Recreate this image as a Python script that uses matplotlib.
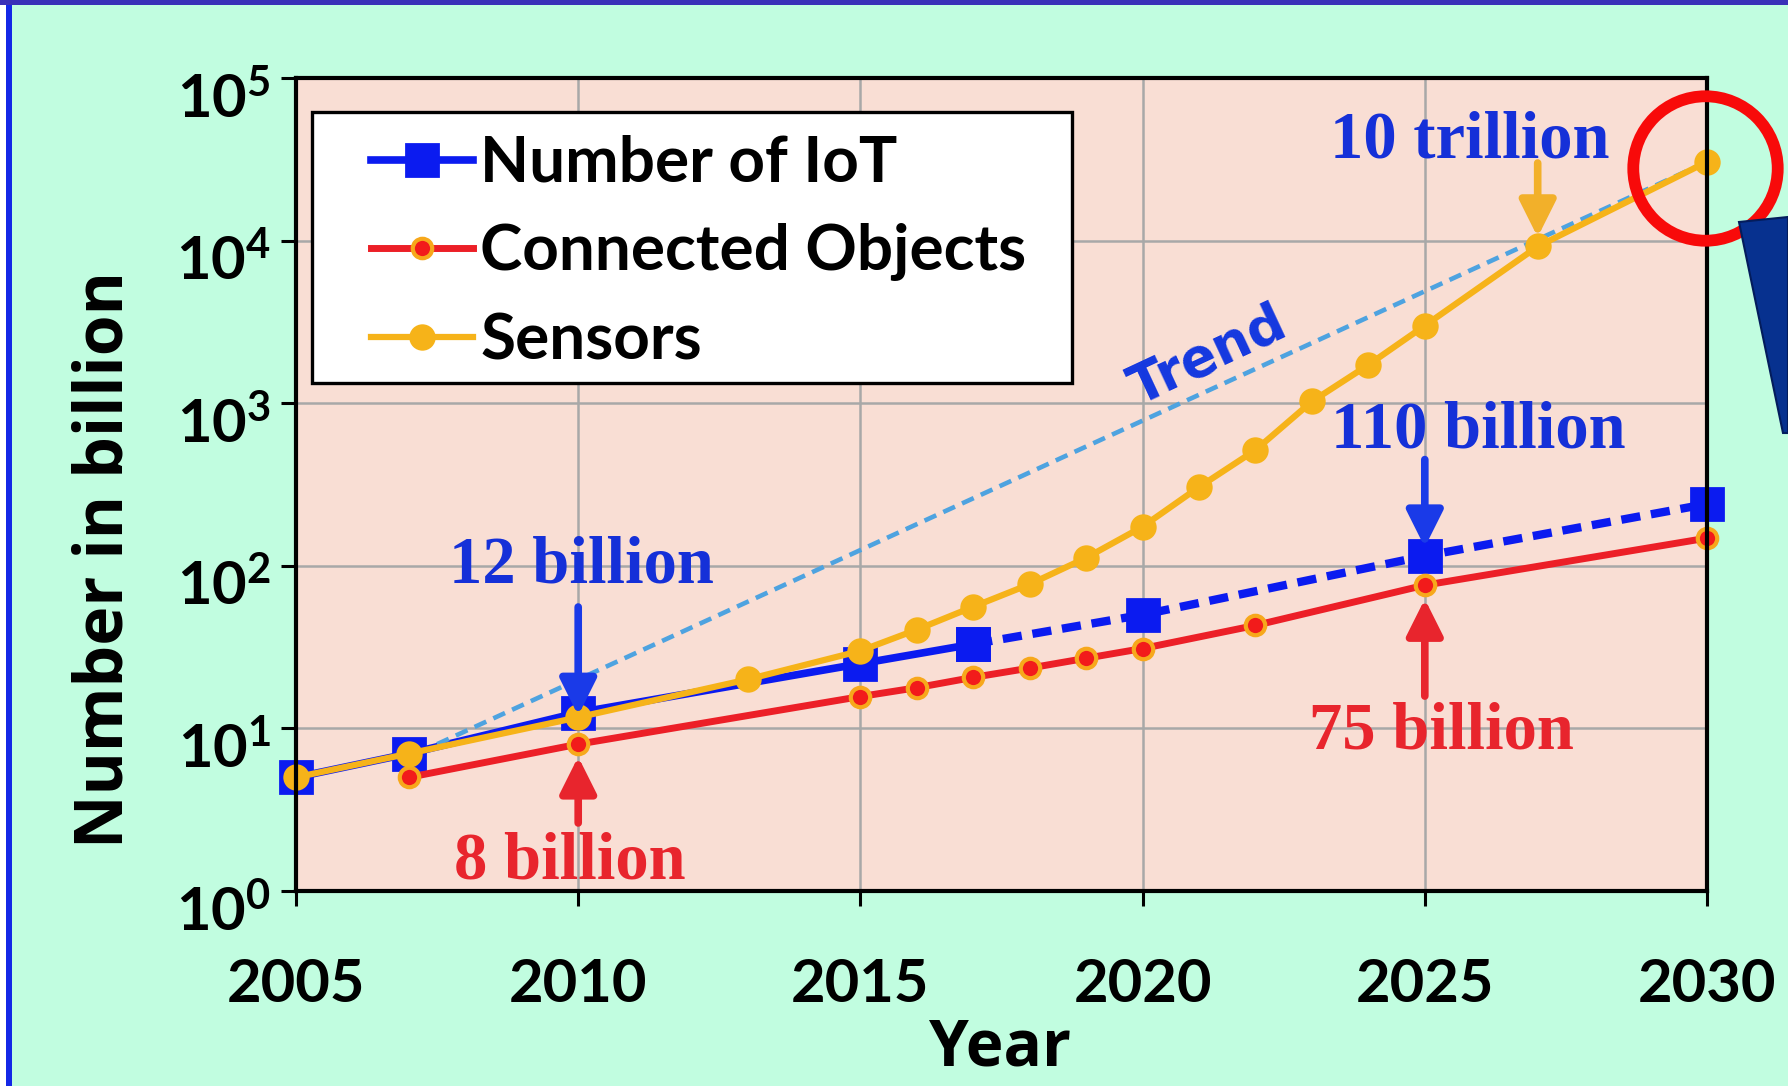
import numpy as np
import matplotlib
matplotlib.use('Agg')
import matplotlib.pyplot as plt
from matplotlib.patches import Rectangle, Polygon
from matplotlib.ticker import FixedLocator, FuncFormatter, NullLocator
from matplotlib import transforms

plt.rcParams['font.family'] = ['Lato', 'DejaVu Sans']
plt.rcParams['font.weight'] = 'bold'
plt.rcParams['mathtext.fontset'] = 'custom'
plt.rcParams['mathtext.bf'] = 'Lato:bold'
plt.rcParams['mathtext.rm'] = 'Lato:bold'

# ---- data (billions) ----
iot_years = [2005, 2007, 2010, 2015, 2017, 2020, 2025, 2030]
iot_values = [5, 7, 12.5, 25, 33, 50, 115, 240]
iot_forecast_from = 2017   # dashed after this year

conn_years = [2007, 2010, 2015, 2016, 2017, 2018, 2019, 2020, 2022, 2025, 2030]
conn_values = [5, 8, 15.7, 17.8, 20.6, 23.5, 27, 31, 43, 76, 148]

sens_years = [2005, 2007, 2010, 2013, 2015, 2016, 2017, 2018, 2019, 2020,
              2021, 2022, 2023, 2024, 2025, 2027, 2030]
sens_values = [5, 7, 11.7, 20, 30, 40.5, 56, 77, 112, 174,
               305, 515, 1025, 1720, 3000, 9200, 30500]

trend_years = [2007.5, 2030]
trend_values = [8, 30500]

# annotations: text, x, baseline y, arrow x, arrow tail, arrow tip, colour
notes = [
    ('12 billion', 2010.05, 79.5, 2010, 55.8, 12.0, '#1530D8'),
    ('8 billion', 2009.85, 1.2, 2010, 2.62, 6.7, '#E8252D'),
    ('110 billion', 2025.95, 531, 2025, 450, 130, '#1530D8'),
    ('75 billion', 2025.3, 7.47, 2025, 15.8, 62.5, '#E8252D'),
    ('10 trillion', 2025.8, 32500, 2027, 30000, 10500, '#1530D8'),
]
arrow_colors = ['#1A3AE8', '#E8252D', '#1A3AE8', '#E8252D', '#F2B02A']

BLUE = '#0B1BF0'
RED = '#EC1F27'
ORANGE = '#F6B319'

fig = plt.figure(figsize=(17.88, 10.86), dpi=100, facecolor='#C1FDE0')
W, H = 1788.0, 1086.0
ax = fig.add_axes([296 / W, 1 - 891 / H, 1411 / W, 813 / H])
ax.set_facecolor('#F9DED4')

# IoT, solid then dashed forecast
k = iot_years.index(iot_forecast_from)
ax.plot(iot_years[:k + 1], iot_values[:k + 1], color=BLUE, lw=5.5, marker='s',
        ms=23, mew=2, mec=BLUE, clip_on=False, zorder=2.6, label='Number of IoT')
ax.plot(iot_years[k:], iot_values[k:], color=BLUE, lw=6, ls=(0, (2.3, 1.3)),
        marker='s', ms=23, mew=2, mec=BLUE, clip_on=False, zorder=2.6)

ax.plot(conn_years, conn_values, color=RED, lw=5, marker='o', ms=14,
        mfc='#F21B1B', mec='#F7A81B', mew=3, clip_on=False, zorder=2.8,
        label='Connected Objects')

ax.plot(trend_years, trend_values, color='#4EA3E0', lw=3.3, ls=(0, (2.8, 1.7)),
        zorder=2.7)

ax.plot(sens_years, sens_values, color=ORANGE, lw=4.5, marker='o', ms=19,
        mew=0, clip_on=False, zorder=3, label='Sensors')

# red highlight circle around last sensor point (drawn a touch low, as in the slide)
shift = transforms.ScaledTranslation(-0.02, -0.06, fig.dpi_scale_trans)
ax.plot(sens_years[-1], sens_values[-1], marker='o', ms=104, mfc='none',
        mec='#F80A0A', mew=8.5, clip_on=False, zorder=7,
        transform=ax.transData + shift)

ax.text(2021.16, 1950, 'Trend', color='#1438E0', fontsize=38,
        family='DejaVu Sans', weight='bold', rotation=25,
        rotation_mode='anchor', ha='center', va='center', zorder=6)

for (txt, tx, ty, axx, a0, a1, c), ac in zip(notes, arrow_colors):
    ax.text(tx, ty, txt, color=c, fontsize=48, family='Liberation Serif',
            weight='bold', ha='center', va='baseline', zorder=6)
    ax.annotate('', xy=(axx, a1), xytext=(axx, a0),
                arrowprops=dict(arrowstyle='-|>,head_width=0.55,head_length=1.1',
                                color=ac, lw=5.5, shrinkA=0, shrinkB=0,
                                mutation_scale=20),
                zorder=6)

ax.set_yscale('log')
ax.set_xlim(2005, 2030)
ax.set_ylim(1, 1e5)
ax.xaxis.set_major_locator(FixedLocator([2005, 2010, 2015, 2020, 2025, 2030]))
ax.yaxis.set_major_locator(FixedLocator([1, 10, 100, 1e3, 1e4, 1e5]))
ax.yaxis.set_minor_locator(NullLocator())
ax.yaxis.set_major_formatter(FuncFormatter(
    lambda v, p: r'$\mathbf{10^{%d}}$' % int(round(np.log10(v)))))
ax.tick_params(axis='both', direction='out', length=11, width=2.2,
               labelsize=43, colors='black')
ax.tick_params(axis='x', pad=37)
ax.tick_params(axis='y', pad=7)
for lab in ax.get_xticklabels():
    lab.set_fontweight('bold')
off = transforms.ScaledTranslation(0, -0.16, fig.dpi_scale_trans)
for lab in ax.get_yticklabels():
    lab.set_transform(lab.get_transform() + off)

ax.grid(True, color='#A8A8A8', lw=1.8)
ax.set_axisbelow(True)
for s in ax.spines.values():
    s.set_linewidth(3)
    s.set_color('black')
    s.set_zorder(4)

# legend with a hand-made frame
frame = Rectangle((312 / W, 1 - 383 / H), 760 / W, 271 / H, transform=fig.transFigure,
                  facecolor='white', edgecolor='black', lw=2.4, zorder=4.5,
                  clip_on=False)
ax.add_patch(frame)
ax.legend(loc='upper left', bbox_to_anchor=(371 / W, 1 - 135 / H),
          bbox_transform=fig.transFigure, frameon=False, borderpad=0,
          borderaxespad=0, fontsize=46, handlelength=1.6, handletextpad=0.11,
          labelspacing=0.49)

fig.text(123 / W, 1 - 559 / H, 'Number in billion', rotation=90,
         rotation_mode='anchor', ha='center', va='baseline', fontsize=47.5,
         family='Open Sans', weight='bold')
fig.text(1000 / W, 1 - 1066 / H, 'Year', ha='center', va='baseline',
         fontsize=46, family='Open Sans', weight='bold')

# slide decorations: border lines and the edge of a big arrow
fig.add_artist(Rectangle((0, 0), 6 / W, 1, transform=fig.transFigure,
                         facecolor='white', edgecolor='none'))
fig.add_artist(Rectangle((6 / W, 0), 6 / W, 1, transform=fig.transFigure,
                         facecolor='#1428E6', edgecolor='none'))
fig.add_artist(Rectangle((0, 1 - 5 / H), 1, 5 / H, transform=fig.transFigure,
                         facecolor='#3A30B8', edgecolor='none'))
pts = [(1739, 222), (1788, 217), (1788, 433), (1783, 433)]
fig.add_artist(Polygon([(x / W, 1 - y / H) for x, y in pts], closed=True,
                       transform=fig.transFigure, facecolor='#07318F',
                       edgecolor='#031C5C', lw=1.5))

fig.savefig('out.png', dpi=100, facecolor=fig.get_facecolor())
